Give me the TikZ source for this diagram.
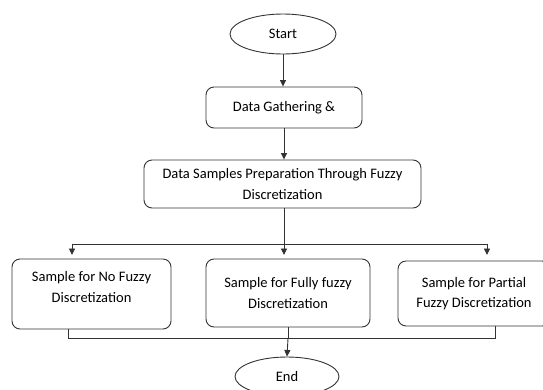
\documentclass[tikz,border=0pt]{standalone}
\usepackage{fontspec}
\setmainfont{Carlito}
\usetikzlibrary{arrows.meta,shapes.geometric}

\tikzset{
  line/.style={draw=black!80, line width=0.9pt},
  flow/.style={line, -{Triangle[length=6.5pt,width=6pt]}},
  procbox/.style={line, rectangle, rounded corners=8pt, align=center,
    font=\fontsize{14.5}{20.5}\selectfont, inner sep=0pt},
  terminal/.style={line, ellipse, inner sep=0pt,
    font=\fontsize{14.5}{17}\selectfont}
}

\begin{document}
\begin{tikzpicture}[x=1pt,y=-1pt]
  \useasboundingbox (0,0) rectangle (543,389);
  \clip (0,0) rectangle (543,389);

  % terminals
  \node[terminal, minimum width=106pt, minimum height=40pt] (start) at (283,34) {Start};
  \node[terminal, minimum width=104pt, minimum height=39pt] (end) at (287,376.5) {End};

  % process steps
  \node[procbox, minimum width=156pt, minimum height=41pt] (gather) at (284,107.5)
    {Data Gathering \&};
  \node[procbox, minimum width=277pt, minimum height=48pt] (prep) at (282.5,184)
    {Data Samples Preparation Through Fuzzy\\Discretization};

  % three sample variants
  \node[procbox, minimum width=159pt, minimum height=70pt] (nofuzzy) at (91.5,294)
    {Sample for No Fuzzy\\Discretization\\[-6pt]};
  \node[procbox, minimum width=164pt, minimum height=68pt] (fully) at (288,293)
    {Sample for Fully fuzzy\\Discretization};
  \node[procbox, minimum width=152pt, minimum height=65pt] (partial) at (474,293.5)
    {Sample for Partial\\Fuzzy Discretization};

  % top of the chain
  \draw[flow] (start.south) -- (start.south |- gather.north);
  \draw[flow] (gather.south) -- (gather.south |- prep.north);

  % split into the three variants
  \coordinate (split) at (284,244);
  \coordinate (toleft) at (72,255);
  \coordinate (toright) at (487,255);
  \draw[flow] (prep.south -| split) -- (split |- toleft);
  \draw[flow] (split) -| (toleft);
  \draw[flow] (split) -| (toright);

  % merge towards the end
  \coordinate (merge) at (288,338.5);
  \coordinate (fromleft) at (68,0);
  \coordinate (fromright) at (495,0);
  \draw[line] (nofuzzy.south -| fromleft) |- (merge);
  \draw[line] (partial.south -| fromright) |- (merge);
  \draw[line] (fully.south) -- (merge);
  \draw[flow] (merge) -- (end.north);
\end{tikzpicture}
\end{document}
